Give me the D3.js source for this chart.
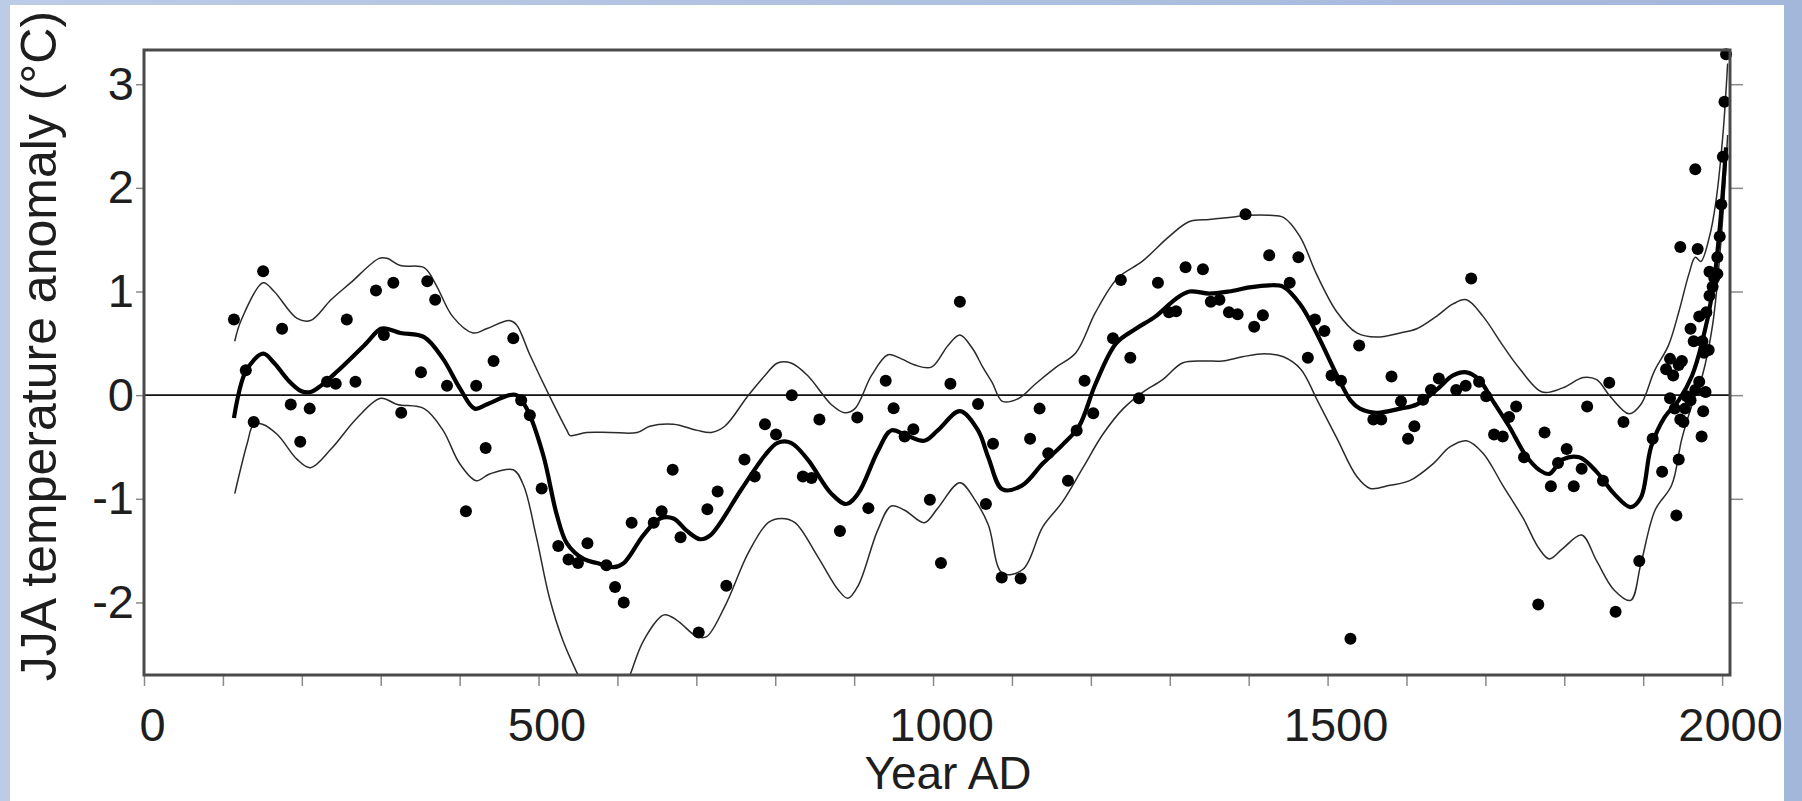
<!DOCTYPE html>
<html>
<head>
<meta charset="utf-8">
<script src="https://cdn.jsdelivr.net/npm/d3@7"></script>
<style>
  html, body { margin: 0; padding: 0; background: #fff; }
  svg { display: block; }
</style>
</head>
<body>
<svg id="chart"></svg>
<script>
// scatter points (year AD, JJA anomaly)
const pointYears = [114, 129, 139, 151, 175, 186, 198, 210, 232, 243, 257, 268, 294, 304, 316, 326, 351, 359,
  369, 384, 408, 421, 433, 443, 468, 478, 489, 504, 525, 538, 550, 562, 586, 597, 608, 618, 646, 656, 670, 680, 703, 714,
  727, 738, 761, 774, 787, 801, 821, 835, 846, 856, 882, 904, 918, 940, 950, 964, 975, 996, 1010, 1022, 1034, 1057, 1067,
  1076, 1087, 1111, 1123, 1135, 1146, 1171, 1182, 1192, 1203, 1228, 1238, 1250, 1261, 1285, 1299, 1308, 1320, 1342, 1352,
  1363, 1375, 1386, 1396, 1407, 1418, 1426,
  1452, 1463, 1475, 1484, 1496, 1505, 1517, 1529, 1540, 1558, 1568, 1581, 1593, 1602, 1610, 1621, 1631, 1641, 1663, 1675,
  1682, 1692, 1701, 1711, 1722, 1730, 1739, 1749, 1767, 1775,
  1783, 1792, 1803, 1812, 1822, 1829, 1849, 1857, 1865, 1875, 1895, 1912, 1924, 1929, 1934, 1934, 1938, 1940, 1942, 1945,
  1945, 1947, 1947, 1949, 1951, 1953, 1955, 1960, 1960, 1964, 1966, 1966, 1969, 1971, 1971, 1974, 1975, 1976, 1977, 1979,
  1980, 1983, 1984, 1984, 1988, 1990, 1994, 1994, 1997, 1999, 2001, 2003, 2005];
const pointValues = [0.73, 0.24, -0.26, 1.195, 0.64, -0.09, -0.45, -0.13, 0.13, 0.11, 0.73, 0.13, 1.01, 0.58, 1.085, -0.17, 0.22, 1.10,
  0.92, 0.09, -1.12, 0.09, -0.51, 0.33, 0.55, -0.05, -0.195, -0.90, -1.455, -1.585, -1.62, -1.43, -1.64, -1.85, -2.00, -1.23, -1.23, -1.12, -0.72, -1.37, -2.29, -1.10,
  -0.93, -1.84, -0.62, -0.785, -0.28, -0.38, 0.0, -0.785, -0.80, -0.235, -1.31, -0.215, -1.09, 0.14, -0.126, -0.40, -0.33, -1.01, -1.62, 0.11, 0.90, -0.085, -1.05,
  -0.47, -1.76, -1.77, -0.42, -0.13, -0.56, -0.825, -0.34, 0.14, -0.175, 0.55, 1.11, 0.36, -0.03, 1.085, 0.80, 0.81, 1.235, 1.215, 0.90,
  0.92, 0.80, 0.78, 1.745, 0.66, 0.77, 1.35,
  1.085, 1.33, 0.36, 0.73, 0.62, 0.19, 0.14, -2.35, 0.48, -0.235, -0.235, 0.18, -0.06, -0.42, -0.30, -0.045, 0.05, 0.16, 0.05, 0.09,
  1.126, 0.13, -0.01, -0.38, -0.40, -0.21, -0.11, -0.60, -2.02, -0.36,
  -0.88, -0.655, -0.52, -0.88, -0.71, -0.11, -0.825, 0.12, -2.09, -0.26, -1.60, -0.42, -0.74, 0.25, 0.35, -0.03, 0.19, -0.13, -1.16, -0.62,
  0.29, 1.43, -0.235, 0.33, -0.26, -0.13, -0.01, -0.05, 0.64, 0.52, 2.18, 0.05, 1.41, 0.13, 0.76, -0.40, 0.52, -0.155, 0.41, 0.03,
  0.80, 0.435, 1.19, 0.96, 1.045, 1.13, 1.33, 1.17, 1.53, 1.84, 2.30, 2.83, 3.29];

// upper envelope
const upperYears = [115, 123, 151, 165, 194, 211, 237, 262, 298, 308, 325, 355, 370, 391, 417, 434, 463, 472, 489, 514, 536, 540,
  561, 591, 625, 641, 671, 701, 719, 736, 765, 787, 803, 820, 841, 871, 888, 901, 922, 943, 960, 977, 998, 1019, 1034, 1050,
  1063, 1075, 1088, 1109, 1130, 1156, 1181, 1206, 1234, 1265, 1299, 1325, 1350, 1375, 1401, 1426, 1444, 1465, 1486, 1512,
  1537, 1562, 1592, 1613, 1638, 1659, 1676, 1697, 1722, 1742, 1772, 1798, 1824, 1841, 1858, 1882, 1897, 1914, 1932, 1945,
  1958, 1966, 1973, 1984, 1992, 2001, 2007];
const upperValues = [0.52, 0.72, 1.085, 1.0, 0.74, 0.72, 0.92, 1.085, 1.32, 1.32, 1.25, 1.23, 1.065, 0.76, 0.60, 0.64, 0.72, 0.68, 0.39, -0.01, -0.34, -0.39,
  -0.36, -0.36, -0.36, -0.30, -0.28, -0.34, -0.36, -0.30, -0.01, 0.19, 0.31, 0.31, 0.19, -0.09, -0.17, -0.13, 0.19, 0.39, 0.35, 0.29, 0.27, 0.48, 0.58, 0.45,
  0.27, 0.12, -0.06, -0.03, 0.11, 0.27, 0.41, 0.80, 1.13, 1.29, 1.53, 1.675, 1.695, 1.715, 1.735, 1.735, 1.715, 1.53, 1.167, 0.80,
  0.60, 0.56, 0.60, 0.64, 0.76, 0.88, 0.92, 0.76, 0.48, 0.27, 0.03, 0.07, 0.17, 0.15, -0.01, -0.18, -0.09, 0.23, 0.48, 0.80,
  1.17, 1.33, 1.29, 1.53, 1.86, 2.51, 3.2];

// smoothed mean
const meanYears = [114, 129, 151, 165, 182, 199, 211, 224, 245, 279, 300, 308, 325, 355, 379, 400, 419, 434, 463, 472, 485, 506,
  523, 536, 557, 574, 595, 608, 633, 654, 671, 688, 705, 718, 757, 787, 803, 820, 841, 871, 890, 905, 930, 947, 964, 989, 1006,
  1034, 1057, 1070, 1088, 1113, 1139, 1164, 1185, 1206, 1232, 1257, 1282, 1308, 1325, 1350, 1375, 1401, 1426, 1444, 1465, 1486,
  1512, 1529, 1541, 1562, 1592, 1613, 1638, 1659, 1676, 1692, 1709, 1730, 1751, 1768, 1781, 1798, 1819, 1841, 1863, 1884, 1897,
  1910, 1927, 1945, 1962, 1975, 1988, 1997, 2005];
const meanValues = [-0.22, 0.23, 0.40, 0.31, 0.15, 0.04, 0.03, 0.09, 0.23, 0.48, 0.64, 0.64, 0.60, 0.56, 0.35, 0.07, -0.13, -0.09, 0.0, 0.0, -0.13, -0.58,
  -1.15, -1.43, -1.58, -1.62, -1.66, -1.62, -1.35, -1.19, -1.19, -1.31, -1.39, -1.35, -0.91, -0.58, -0.46, -0.46, -0.62, -0.95, -1.05, -0.95, -0.54, -0.34, -0.38, -0.44, -0.34,
  -0.155, -0.34, -0.60, -0.91, -0.87, -0.66, -0.48, -0.30, 0.11, 0.50, 0.64, 0.76, 0.93, 1.0, 0.98, 1.0, 1.04, 1.06, 1.045, 0.88, 0.60,
  0.19, -0.05, -0.13, -0.17, -0.13, -0.09, 0.05, 0.19, 0.22, 0.15, -0.05, -0.30, -0.58, -0.72, -0.76, -0.62, -0.60, -0.74, -0.95, -1.08, -0.99,
  -0.50, -0.215, -0.05, 0.19, 0.52, 1.0, 1.61, 2.39];

// lower envelope
const lowerYears = [115, 131, 139, 150, 169, 194, 211, 237, 270, 300, 321, 355, 379, 400, 421, 438, 468, 481, 497, 514, 531, 553,
  575, 600, 616, 633, 659, 675, 701, 713, 736, 766, 791, 808, 825, 854, 880, 892, 905, 930, 947, 964, 989, 1006, 1034, 1053,
  1070, 1088, 1114, 1139, 1164, 1190, 1215, 1241, 1266, 1291, 1316, 1342, 1367, 1392, 1420, 1444, 1466, 1487, 1512, 1537, 1554,
  1579, 1604, 1634, 1655, 1676, 1697, 1722, 1748, 1768, 1781, 1798, 1822, 1841, 1863, 1884, 1897, 1915, 1936, 1949, 1962, 1975,
  1988, 1999, 2007];
const lowerValues = [-0.95, -0.46, -0.28, -0.28, -0.38, -0.62, -0.70, -0.52, -0.22, -0.03, -0.09, -0.13, -0.34, -0.66, -0.825, -0.76, -0.72, -0.87, -1.36, -1.96, -2.37, -2.75,
  -3.1, -3.0, -2.70, -2.37, -2.12, -2.17, -2.33, -2.33, -2.04, -1.52, -1.23, -1.19, -1.23, -1.56, -1.88, -1.96, -1.84, -1.30, -1.07, -1.11, -1.23, -1.09, -0.845, -1.01,
  -1.25, -1.72, -1.68, -1.27, -1.03, -0.70, -0.38, -0.13, 0.03, 0.15, 0.31, 0.33, 0.33, 0.37, 0.40, 0.37, 0.25, -0.05, -0.42, -0.785, -0.90,
  -0.87, -0.825, -0.66, -0.50, -0.44, -0.56, -0.87, -1.19, -1.48, -1.58, -1.48, -1.35, -1.60, -1.88, -1.98, -1.63, -1.11, -0.87, -0.42, -0.09, 0.19,
  0.68, 1.53, 2.51];

// axis ticks
const xMinorTicks = d3.range(0, 2001, 100);
const xLabelTicks = [0, 500, 1000, 1500, 2000];
const yTicks = [-2, -1, 0, 1, 2, 3];

const W = 1802, H = 801;
const margin = { top: 50, right: 72, bottom: 126, left: 144 };
const width = W - margin.left - margin.right;
const height = H - margin.top - margin.bottom;
const font = "'Liberation Sans', Arial, sans-serif";

const svg = d3.select('#chart').attr('width', W).attr('height', H);

// slide background: blue edges, white panel
const defs = svg.append('defs');
const grad = defs.append('linearGradient').attr('id', 'bg').attr('x1', 0).attr('x2', 1).attr('y1', 0).attr('y2', 0);
grad.append('stop').attr('offset', '0%').attr('stop-color', '#bccbe6');
grad.append('stop').attr('offset', '100%').attr('stop-color', '#a3b7da');
svg.append('rect').attr('width', W).attr('height', H).attr('fill', 'url(#bg)');
svg.append('rect').attr('x', 10).attr('y', 5).attr('width', 1774).attr('height', H - 5).attr('fill', '#ffffff');

defs.append('clipPath').attr('id', 'plotclip')
  .append('rect').attr('width', width).attr('height', height);

const g = svg.append('g').attr('transform', 'translate(' + margin.left + ',' + margin.top + ')');

const x = d3.scaleLinear().domain([0, 2010]).range([0, width]);
const y = d3.scaleLinear().domain([-2.7, 3.33]).range([height, 0]);

// axes
const xAxis = g.append('g')
  .attr('transform', 'translate(0,' + height + ')')
  .call(d3.axisBottom(x).tickValues(xMinorTicks).tickSize(11).tickPadding(22)
    .tickFormat(d => xLabelTicks.includes(d) ? String(d) : ''));
xAxis.selectAll('text').attr('dx', '8');

const yAxis = g.append('g')
  .call(d3.axisLeft(y).tickValues(yTicks).tickSize(8).tickPadding(2).tickFormat(d => String(d)));

const yAxisRight = g.append('g')
  .attr('transform', 'translate(' + width + ',0)')
  .call(d3.axisRight(y).tickValues(yTicks).tickSize(13).tickFormat(''));

[xAxis, yAxis, yAxisRight].forEach(a => {
  a.select('.domain').remove();
  a.selectAll('line').attr('stroke', '#8a8a8a').attr('stroke-width', 1.5);
  a.selectAll('text').attr('font-family', font).attr('font-size', '47px').attr('fill', '#1e1e1e');
});

// zero line
g.append('line')
  .attr('x1', 0).attr('x2', width)
  .attr('y1', y(0)).attr('y2', y(0))
  .attr('stroke', '#111').attr('stroke-width', 1.8);

const lines = g.append('g').attr('clip-path', 'url(#plotclip)');
const lineGen = d3.line().x(d => x(d[0])).y(d => y(d[1])).curve(d3.curveCatmullRom.alpha(0.5));

lines.append('path')
  .datum(upperYears.map((yr, i) => [yr, upperValues[i]]))
  .attr('fill', 'none').attr('stroke', '#2a2a2a').attr('stroke-width', 1.5)
  .attr('d', lineGen);

lines.append('path')
  .datum(lowerYears.map((yr, i) => [yr, lowerValues[i]]))
  .attr('fill', 'none').attr('stroke', '#2a2a2a').attr('stroke-width', 1.5)
  .attr('d', lineGen);

lines.append('path')
  .datum(meanYears.map((yr, i) => [yr, meanValues[i]]))
  .attr('fill', 'none').attr('stroke', '#000').attr('stroke-width', 4.2)
  .attr('stroke-linejoin', 'round')
  .attr('d', lineGen);

// points
g.append('g').selectAll('circle')
  .data(pointYears.map((yr, i) => [yr, pointValues[i]]))
  .join('circle')
  .attr('cx', d => x(d[0]))
  .attr('cy', d => y(d[1]))
  .attr('r', 6)
  .attr('fill', '#000');

// frame
g.append('rect')
  .attr('width', width).attr('height', height)
  .attr('fill', 'none').attr('stroke', '#4a4a4a').attr('stroke-width', 3);

// axis titles
svg.append('text')
  .attr('x', 948).attr('y', 789)
  .attr('text-anchor', 'middle')
  .attr('font-family', font).attr('font-size', '46px').attr('fill', '#1e1e1e')
  .text('Year AD');

svg.append('text')
  .attr('transform', 'translate(56,346) rotate(-90)')
  .attr('text-anchor', 'middle')
  .attr('font-family', font).attr('font-size', '50px').attr('fill', '#1e1e1e')
  .text('JJA temperature anomaly (°C)');
</script>
</body>
</html>
